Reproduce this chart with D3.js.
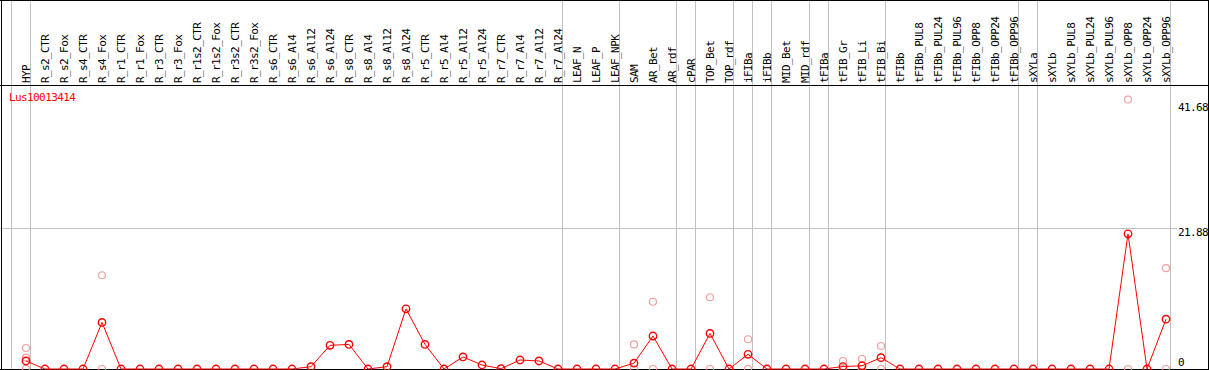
<!DOCTYPE html>
<html>
<head>
<meta charset="utf-8">
<script src="https://cdn.jsdelivr.net/npm/d3@7"></script>
<style>
  body { margin: 0; background: #fff; }
  text { font-family: 'DejaVu Sans Mono', monospace; font-size: 11px; letter-spacing: -0.6px; }
</style>
</head>
<body>
<svg id="chart" width="1209" height="370"></svg>
<script>
const geneName = 'Lus10013414';

const samples = ['HYP',
  'R_s2_CTR','R_s2_Fox','R_s4_CTR','R_s4_Fox','R_r1_CTR','R_r1_Fox','R_r3_CTR','R_r3_Fox',
  'R_r1s2_CTR','R_r1s2_Fox','R_r3s2_CTR','R_r3s2_Fox',
  'R_s6_CTR','R_s6_Al4','R_s6_Al12','R_s6_Al24','R_s8_CTR','R_s8_Al4','R_s8_Al12','R_s8_Al24',
  'R_r5_CTR','R_r5_Al4','R_r5_Al12','R_r5_Al24','R_r7_CTR','R_r7_Al4','R_r7_Al12','R_r7_Al24',
  'LEAF_N','LEAF_P','LEAF_NPK','SAM','AR_Bet','AR_rdf','cPAR','TOP_Bet','TOP_rdf',
  'iFIBa','iFIBb','MID_Bet','MID_rdf','tFIBa','tFIB_Gr','tFIB_Li','tFIB_Bi',
  'tFIBb','tFIBb_PUL8','tFIBb_PUL24','tFIBb_PUL96','tFIBb_OPP8','tFIBb_OPP24','tFIBb_OPP96',
  'sXYLa','sXYLb','sXYLb_PUL8','sXYLb_PUL24','sXYLb_PUL96','sXYLb_OPP8','sXYLb_OPP24','sXYLb_OPP96'];

// mean expression per sample (red line)
const means = [1.24,
  0, 0, 0, 7.2, 0, 0, 0, 0,
  0, 0, 0, 0,
  0, 0, 0.36, 3.66, 3.8, 0, 0.36, 9.3,
  3.8, 0, 1.86, 0.62, 0.05, 1.39, 1.24, 0,
  0, 0, 0, 0.9, 5.1, 0, 0, 5.5, 0,
  2.27, 0, 0, 0, 0, 0.38, 0.5, 1.75,
  0, 0, 0, 0, 0, 0, 0,
  0, 0, 0, 0, 0, 20.9, 0, 7.7];

// individual replicates (pink circles)
const repSample = ['HYP','HYP','HYP','R_s4_Fox','R_s4_Fox','SAM','SAM','AR_Bet','AR_Bet',
  'TOP_Bet','TOP_Bet','iFIBa','iFIBa','tFIB_Gr','tFIB_Gr','tFIB_Li','tFIB_Li',
  'tFIB_Bi','tFIB_Bi','sXYLb_OPP8','sXYLb_OPP8','sXYLb_OPP96','sXYLb_OPP96'];
const repValue = [3.25, 1.75, 0, 14.5, 0, 3.8, 0, 10.4, 0,
  11.1, 0, 4.6, 0, 1.24, 0, 1.55, 0,
  3.56, 0, 41.68, 0, 15.6, 0];

// separators drawn after these samples
const groupEnds = ['HYP','R_r7_Al24','LEAF_NPK','AR_rdf','cPAR','TOP_rdf','iFIBa','iFIBb',
  'MID_rdf','tFIBa','tFIB_Bi','tFIBb_OPP96','sXYLa','sXYLb_OPP96'];

const yTicks = [0, 21.88, 41.68];
const yMax = 41.68;

const W = 1209, H = 370;
const headerH = 85;
const grey = '#c0c0c0';

const svg = d3.select('#chart');
svg.append('rect').attr('width', W).attr('height', H).attr('fill', '#fff');

const x = d3.scalePoint().domain(samples).range([26, 1166]);
const y = d3.scaleLinear().domain([0, yMax]).range([369, 99.5]);

// vertical separators
const sepX = [x(samples[0]) - 15].concat(groupEnds.map(s => x(s) + 4));
svg.append('g').selectAll('line')
  .data(sepX).enter()
  .append('line')
  .attr('x1', d => d + 0.5).attr('x2', d => d + 0.5)
  .attr('y1', 0).attr('y2', H)
  .attr('stroke', grey).attr('stroke-width', 1);

// horizontal grid line at middle tick
svg.append('line')
  .attr('x1', 0).attr('x2', 1177)
  .attr('y1', Math.round(y(yTicks[1])) + 0.5).attr('y2', Math.round(y(yTicks[1])) + 0.5)
  .attr('stroke', grey);

// column labels
svg.append('g').selectAll('text')
  .data(samples).enter()
  .append('text')
  .attr('transform', d => 'translate(' + (x(d) + 3.6) + ',' + 83 + ') rotate(-90)')
  .attr('fill', '#000')
  .text(d => d);

// frame
svg.append('line').attr('x1', 0).attr('x2', W).attr('y1', 0.5).attr('y2', 0.5).attr('stroke', '#000');
svg.append('line').attr('x1', 0).attr('x2', W).attr('y1', headerH + 0.5).attr('y2', headerH + 0.5).attr('stroke', '#000');
svg.append('line').attr('x1', 0).attr('x2', W).attr('y1', 369.5).attr('y2', 369.5).attr('stroke', '#000');
svg.append('line').attr('x1', 1.5).attr('x2', 1.5).attr('y1', 0).attr('y2', H).attr('stroke', '#000');
svg.append('line').attr('x1', W - 0.5).attr('x2', W - 0.5).attr('y1', 0).attr('y2', H).attr('stroke', '#000');

// y labels on the right
const yLab = svg.append('g');
yLab.selectAll('text')
  .data(yTicks).enter()
  .append('text')
  .attr('x', 1178)
  .attr('y', d => d === 0 ? 366 : (d === yMax ? 111 : y(d) + 8))
  .attr('fill', '#000')
  .text(d => d === 0 ? '0' : d3.format('.2f')(d));

// title
svg.append('text')
  .attr('x', 9).attr('y', 101)
  .attr('fill', '#ff0000')
  .text(geneName);

// replicate circles
svg.append('g').selectAll('circle')
  .data(repSample.map((s, i) => ({s: s, v: repValue[i]}))).enter()
  .append('circle')
  .attr('cx', d => x(d.s))
  .attr('cy', d => y(d.v))
  .attr('r', 3.5)
  .attr('fill', 'none')
  .attr('stroke', '#f0a0a0')
  .attr('stroke-width', 1.2);

// mean line
const pts = samples.map((s, i) => ({s: s, v: means[i]}));
svg.append('path')
  .datum(pts)
  .attr('d', d3.line().x(d => x(d.s)).y(d => y(d.v)))
  .attr('fill', 'none')
  .attr('stroke', '#ff0000')
  .attr('stroke-width', 1);

svg.append('g').selectAll('circle')
  .data(pts).enter()
  .append('circle')
  .attr('cx', d => x(d.s))
  .attr('cy', d => y(d.v))
  .attr('r', 3.7)
  .attr('fill', 'none')
  .attr('stroke', '#ff0000')
  .attr('stroke-width', 1.4);
</script>
</body>
</html>
